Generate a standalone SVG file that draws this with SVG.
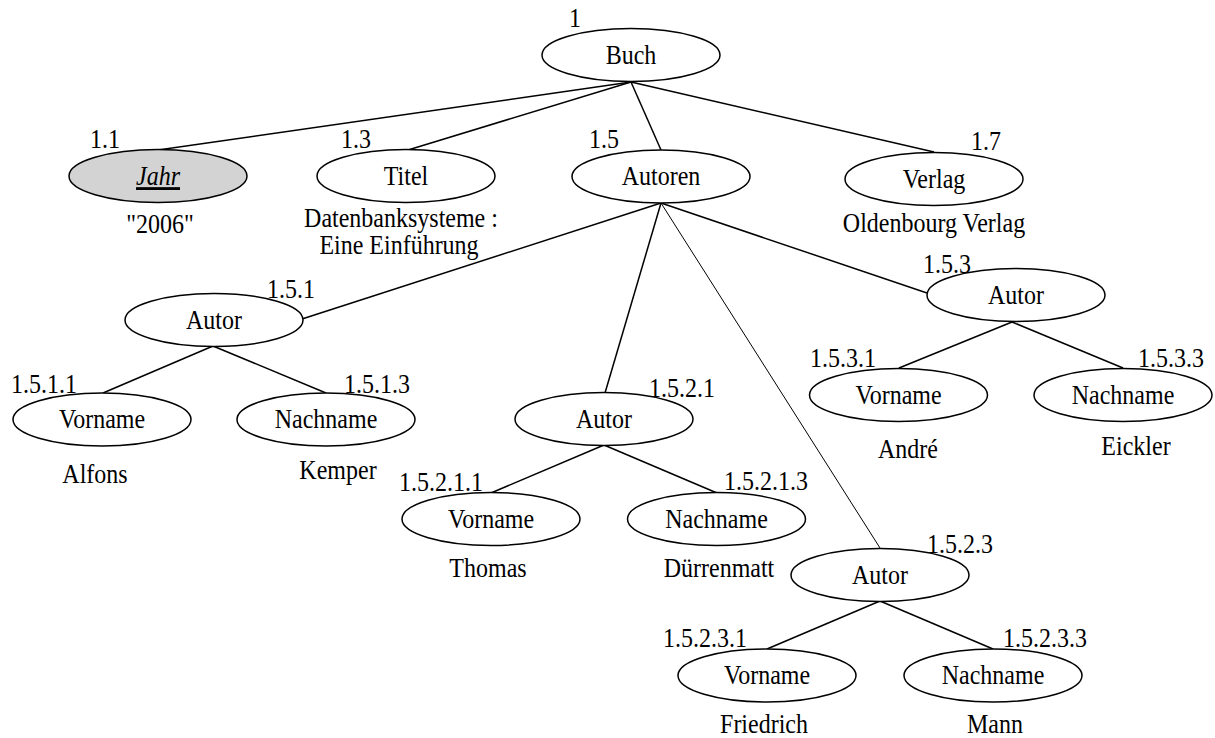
<svg xmlns="http://www.w3.org/2000/svg" width="1215" height="738" viewBox="0 0 1215 738" font-family="'Liberation Serif', 'Times New Roman', 'DejaVu Serif', serif">
  <style>
    text { font-family: 'Liberation Serif', 'Times New Roman', 'DejaVu Serif', serif; font-size: 24px; fill: #000; }
    .name { text-anchor: middle; }
    .val { text-anchor: middle; }
    .num { text-anchor: start; }
    ellipse { fill: #fff; stroke: #000; stroke-width: 1.5; }
    ellipse.key { fill: #d3d3d3; }
    .edges line { stroke: #000; stroke-width: 1.5; }
    .edges line.thin { stroke-width: 1; }
  </style>
  <rect width="1215" height="738" fill="#fff"/>

  <!-- tree edges -->
  <g id="connectors" class="edges">
    <line x1="631" y1="82" x2="158" y2="150"/>
    <line x1="631" y1="82" x2="408" y2="150"/>
    <line x1="631" y1="82" x2="661" y2="150"/>
    <line x1="631" y1="82" x2="934" y2="152"/>
    <line x1="661" y1="203" x2="302" y2="319"/>
    <line x1="661" y1="203" x2="605" y2="393"/>
    <line class="thin" x1="661" y1="203" x2="880" y2="548"/>
    <line x1="661" y1="203" x2="927" y2="293"/>
    <line x1="213" y1="346" x2="103" y2="393"/>
    <line x1="213" y1="346" x2="326" y2="393"/>
    <line x1="604" y1="445" x2="491" y2="493"/>
    <line x1="604" y1="445" x2="717" y2="493"/>
    <line x1="880" y1="601" x2="767" y2="649"/>
    <line x1="880" y1="601" x2="993" y2="649"/>
    <line x1="1012" y1="322" x2="899" y2="368"/>
    <line x1="1012" y1="322" x2="1123" y2="368"/>
  </g>

  <!-- text is set slightly taller than wide: matrix(1 0 0 1.18 x baseline) -->
  <g id="n-1">
    <ellipse cx="631" cy="55" rx="89" ry="26.5"/>
    <text class="name" transform="matrix(1 0 0 1.18 631 64)">Buch</text>
    <text class="num" transform="matrix(1 0 0 1.18 569 27)">1</text>
  </g>
  <g id="n-1.1">
    <ellipse class="key" cx="158" cy="176" rx="89" ry="26.5"/>
    <text class="name" transform="matrix(1 0 0 1.18 158 185)" font-style="italic" text-decoration="underline">Jahr</text>
    <text class="num" transform="matrix(1 0 0 1.18 90 148)">1.1</text>
    <text class="val" transform="matrix(1 0 0 1.18 160 233)">"2006"</text>
  </g>
  <g id="n-1.3">
    <ellipse cx="406" cy="176" rx="89" ry="26.5"/>
    <text class="name" transform="matrix(1 0 0 1.18 406 185)">Titel</text>
    <text class="num" transform="matrix(1 0 0 1.18 341 148)">1.3</text>
    <text class="val" transform="matrix(1 0 0 1.18 401 227)">Datenbanksysteme :</text>
    <text class="val" transform="matrix(1 0 0 1.18 399 254)">Eine Einführung</text>
  </g>
  <g id="n-1.5">
    <ellipse cx="661" cy="176.5" rx="89" ry="26.5"/>
    <text class="name" transform="matrix(1 0 0 1.18 661 185)">Autoren</text>
    <text class="num" transform="matrix(1 0 0 1.18 589 148)">1.5</text>
  </g>
  <g id="n-1.7">
    <ellipse cx="934" cy="179" rx="89" ry="26.5"/>
    <text class="name" transform="matrix(1 0 0 1.18 934 188)">Verlag</text>
    <text class="num" transform="matrix(1 0 0 1.18 971 150)">1.7</text>
    <text class="val" transform="matrix(1 0 0 1.18 934 232)">Oldenbourg Verlag</text>
  </g>

  <g id="n-1.5.1">
    <ellipse cx="214" cy="320" rx="89" ry="26.5"/>
    <text class="name" transform="matrix(1 0 0 1.18 214 329)">Autor</text>
    <text class="num" transform="matrix(1 0 0 1.18 267 298)">1.5.1</text>
  </g>
  <g id="n-1.5.1.1">
    <ellipse cx="102" cy="419.5" rx="89" ry="26.5"/>
    <text class="name" transform="matrix(1 0 0 1.18 102 428)">Vorname</text>
    <text class="num" transform="matrix(1 0 0 1.18 11 393)">1.5.1.1</text>
    <text class="val" transform="matrix(1 0 0 1.18 95 483)">Alfons</text>
  </g>
  <g id="n-1.5.1.3">
    <ellipse cx="326" cy="419.5" rx="89" ry="26.5"/>
    <text class="name" transform="matrix(1 0 0 1.18 326 428)">Nachname</text>
    <text class="num" transform="matrix(1 0 0 1.18 344 393)">1.5.1.3</text>
    <text class="val" transform="matrix(1 0 0 1.18 338 479)">Kemper</text>
  </g>

  <g id="n-1.5.2.1">
    <ellipse cx="604" cy="419" rx="89" ry="26.5"/>
    <text class="name" transform="matrix(1 0 0 1.18 604 428)">Autor</text>
    <text class="num" transform="matrix(1 0 0 1.18 649 397)">1.5.2.1</text>
  </g>
  <g id="n-1.5.2.1.1">
    <ellipse cx="491" cy="519" rx="89" ry="26.5"/>
    <text class="name" transform="matrix(1 0 0 1.18 491 528)">Vorname</text>
    <text class="num" transform="matrix(1 0 0 1.18 399 491)">1.5.2.1.1</text>
    <text class="val" transform="matrix(1 0 0 1.18 488 577)">Thomas</text>
  </g>
  <g id="n-1.5.2.1.3">
    <ellipse cx="716.5" cy="519" rx="89" ry="26.5"/>
    <text class="name" transform="matrix(1 0 0 1.18 716.5 528)">Nachname</text>
    <text class="num" transform="matrix(1 0 0 1.18 724 490)">1.5.2.1.3</text>
    <text class="val" transform="matrix(1 0 0 1.18 719 577)">Dürrenmatt</text>
  </g>

  <g id="n-1.5.2.3">
    <ellipse cx="880" cy="575" rx="89" ry="26.5"/>
    <text class="name" transform="matrix(1 0 0 1.18 880 584)">Autor</text>
    <text class="num" transform="matrix(1 0 0 1.18 927 553)">1.5.2.3</text>
  </g>
  <g id="n-1.5.2.3.1">
    <ellipse cx="767" cy="675.5" rx="89" ry="26.5"/>
    <text class="name" transform="matrix(1 0 0 1.18 767 684)">Vorname</text>
    <text class="num" transform="matrix(1 0 0 1.18 663 647)">1.5.2.3.1</text>
    <text class="val" transform="matrix(1 0 0 1.18 764 733)">Friedrich</text>
  </g>
  <g id="n-1.5.2.3.3">
    <ellipse cx="993" cy="675.5" rx="89" ry="26.5"/>
    <text class="name" transform="matrix(1 0 0 1.18 993 684)">Nachname</text>
    <text class="num" transform="matrix(1 0 0 1.18 1003 647)">1.5.2.3.3</text>
    <text class="val" transform="matrix(1 0 0 1.18 995 733)">Mann</text>
  </g>

  <g id="n-1.5.3">
    <ellipse cx="1016" cy="295" rx="89" ry="26.5"/>
    <text class="name" transform="matrix(1 0 0 1.18 1016 304)">Autor</text>
    <text class="num" transform="matrix(1 0 0 1.18 923 273)">1.5.3</text>
  </g>
  <g id="n-1.5.3.1">
    <ellipse cx="898.5" cy="395" rx="89" ry="26.5"/>
    <text class="name" transform="matrix(1 0 0 1.18 898.5 404)">Vorname</text>
    <text class="num" transform="matrix(1 0 0 1.18 810 367)">1.5.3.1</text>
    <text class="val" transform="matrix(1 0 0 1.18 908 458)">André</text>
  </g>
  <g id="n-1.5.3.3">
    <ellipse cx="1123" cy="395" rx="89" ry="26.5"/>
    <text class="name" transform="matrix(1 0 0 1.18 1123 404)">Nachname</text>
    <text class="num" transform="matrix(1 0 0 1.18 1138 367)">1.5.3.3</text>
    <text class="val" transform="matrix(1 0 0 1.18 1136 455)">Eickler</text>
  </g>
</svg>
